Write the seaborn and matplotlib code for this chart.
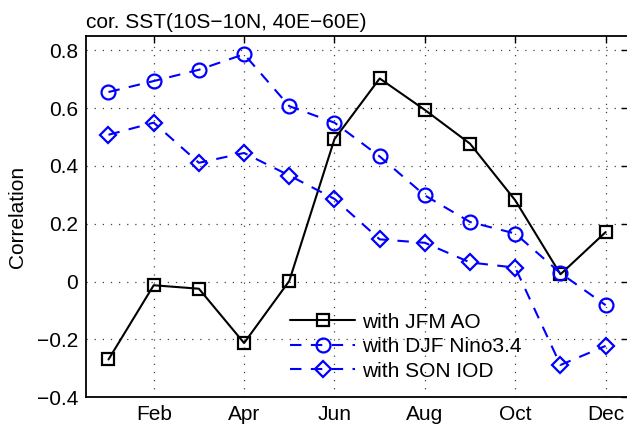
import numpy as np
import pandas as pd
import matplotlib
matplotlib.use("Agg")
import matplotlib.pyplot as plt
import seaborn as sns

# Monthly correlations of SST (10S-10N, 40E-60E) with three climate indices
months = np.arange(1, 13)
tick_months = [2, 4, 6, 8, 10, 12]
tick_labels = ["Feb", "Apr", "Jun", "Aug", "Oct", "Dec"]

jfm_ao = [-0.27, -0.013, -0.025, -0.213, 0.002, 0.493, 0.703, 0.594, 0.477, 0.281, 0.025, 0.171]
djf_nino34 = [0.656, 0.694, 0.733, 0.787, 0.607, 0.550, 0.433, 0.298, 0.206, 0.166, 0.029, -0.082]
son_iod = [0.508, 0.550, 0.411, 0.445, 0.367, 0.286, 0.146, 0.134, 0.066, 0.048, -0.289, -0.223]

yticks = [-0.4, -0.2, 0, 0.2, 0.4, 0.6, 0.8]
ytick_labels = ["\u22120.4", "\u22120.2", "0", "0.2", "0.4", "0.6", "0.8"]

sns.set_theme(style="white")
plt.rcParams["font.family"] = ["Liberation Sans", "DejaVu Sans"]
plt.rcParams["text.color"] = "black"

fig = plt.figure(figsize=(6.27, 4.26), dpi=100)
ax = fig.add_axes([0.137, 0.068, 0.865, 0.8475])

blue = "#0000ff"
dash = (0, (5.5, 4.5))
series = [
    (jfm_ao, "with JFM AO", "black", "s", "-", 9),
    (djf_nino34, "with DJF Nino3.4", blue, "o", dash, 10),
    (son_iod, "with SON IOD", blue, "D", dash, 8.5),
]
for vals, label, color, marker, ls, ms in series:
    sns.lineplot(x=months, y=vals, ax=ax, color=color, marker=marker,
                 linestyle=ls, linewidth=1.5, markersize=ms,
                 markerfacecolor="none", markeredgecolor=color,
                 markeredgewidth=1.6, label=label)

ax.set_xlim(0.5, 12.5)
ax.set_ylim(-0.4, 0.85)
ax.set_xticks(tick_months)
ax.set_xticklabels(tick_labels)
ax.set_yticks(yticks)
ax.set_yticklabels(ytick_labels)
ax.tick_params(direction="in", length=5, width=1, top=True, right=True,
               labelsize=15, colors="black", pad=5.5)
ax.grid(True, linestyle=(0, (1, 5.5)), color="#444444", linewidth=0.9)
for s in ax.spines.values():
    s.set_color("black")
    s.set_linewidth(1.3)

ax.set_ylabel("Correlation", fontsize=15, color="black", labelpad=7)
ax.set_xlabel("")
ax.set_title("cor. SST(10S\u221210N, 40E\u221260E)", loc="left", fontsize=15,
             color="black", pad=6)

leg = ax.legend(loc="lower left", bbox_to_anchor=(0.377, 0.045), frameon=False,
                fontsize=15, handlelength=3.1, handletextpad=0.35,
                labelspacing=0.27, borderaxespad=0, borderpad=0)
for t in leg.get_texts():
    t.set_color("black")

fig.savefig("out.png", dpi=100)
